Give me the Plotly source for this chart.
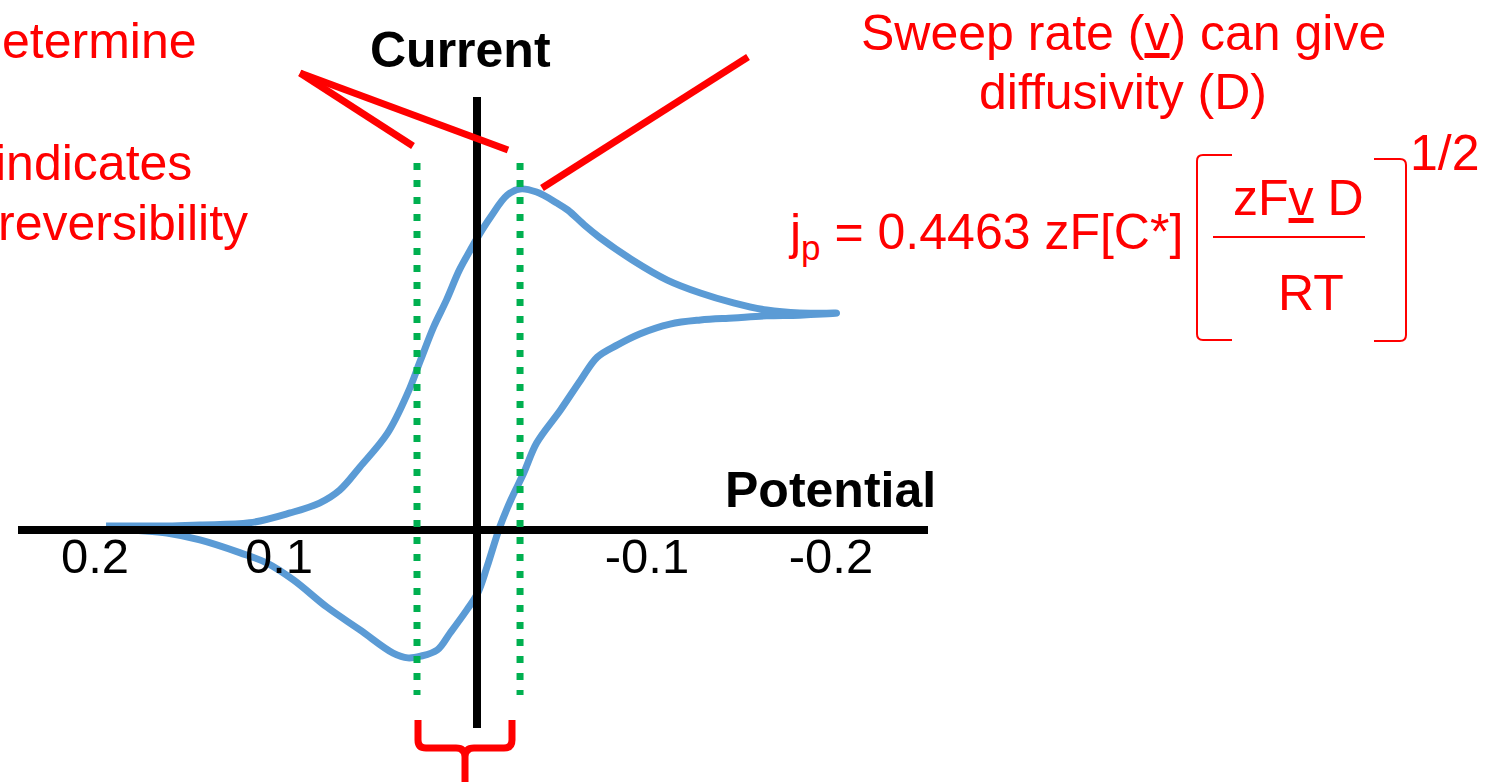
import plotly.graph_objects as go

W, H = 1495, 782

# ---------------- data (potential in V, current normalised to anodic peak) ----------------
fwd_potential = [0.194, 0.161, 0.143, 0.116, 0.094, 0.078, 0.067, 0.056, 0.041, 0.030,
                 0.023, 0.016, 0.009, 0.002, -0.004, -0.008, -0.015, -0.024, -0.031, -0.040,
                 -0.051, -0.057, -0.066, -0.074, -0.092, -0.111, -0.129, -0.147, -0.165,
                 -0.183, -0.203]
fwd_current = [0.012, 0.012, 0.015, 0.021, 0.050, 0.079, 0.117, 0.185, 0.284, 0.402,
               0.499, 0.595, 0.674, 0.762, 0.821, 0.859, 0.918, 0.982, 1.000, 0.991,
               0.959, 0.938, 0.894, 0.859, 0.792, 0.733, 0.695, 0.666, 0.645,
               0.636, 0.636]
rev_potential = [-0.183, -0.165, -0.147, -0.129, -0.1125, -0.096, -0.084, -0.073, -0.064,
                 -0.053, -0.040, -0.033, -0.026, -0.020, -0.013, -0.008, -0.002, 0.007,
                 0.014, 0.023, 0.030, 0.038, 0.056, 0.074, 0.092, 0.1065, 0.121, 0.143,
                 0.161, 0.179, 0.194]
rev_current = [0.630, 0.628, 0.622, 0.616, 0.604, 0.575, 0.543, 0.507, 0.440, 0.352,
               0.255, 0.167, 0.088, 0.009, -0.109, -0.185, -0.235, -0.302, -0.352, -0.370,
               -0.375, -0.361, -0.293, -0.226, -0.147, -0.097, -0.067, -0.029, -0.009,
               0.000, 0.009]
peak_potentials = [0.025, -0.031]          # cathodic / anodic peak potentials
tick_values = [0.2, 0.1, -0.1, -0.2]
tick_labels = ["0.2", "0.1", "-0.1", "-0.2"]

# ---------------- styling helpers (pixel -> paper fractions for decorations) ----------------
def PX(px):
    return px / W


def PY(py):
    return 1 - py / H


RED = "#FF0000"
BLUE = "#5B9BD5"
GREEN = "#00B050"
FONT = "Arial, Liberation Sans, sans-serif"
FS = 50

fig = go.Figure()
fig.add_trace(go.Scatter(
    x=fwd_potential + rev_potential,
    y=fwd_current + rev_current,
    mode="lines",
    line=dict(color=BLUE, width=7, shape="spline", smoothing=1.0),
    hoverinfo="skip",
))

shapes = []
# axes (black)
shapes.append(dict(type="line", xref="paper", yref="paper", x0=PX(18), x1=PX(928),
                   y0=PY(530), y1=PY(530), line=dict(color="black", width=8)))
shapes.append(dict(type="line", xref="paper", yref="paper", x0=PX(477), x1=PX(477),
                   y0=PY(97), y1=PY(728), line=dict(color="black", width=8)))
# green dotted lines at peak potentials
for pp in peak_potentials:
    shapes.append(dict(type="line", xref="x", yref="y", x0=pp, x1=pp, y0=1.076, y1=-0.484,
                       line=dict(color=GREEN, width=7, dash="7px,10px")))
# red pointer lines
for (a, b, c, d) in [(300, 73, 508, 150), (300, 73, 413, 146), (542, 188, 748, 57)]:
    shapes.append(dict(type="line", xref="paper", yref="paper", x0=PX(a), y0=PY(b),
                       x1=PX(c), y1=PY(d), line=dict(color=RED, width=7)))


def path(cmds):
    out = []
    for c in cmds:
        if isinstance(c, str):
            out.append(c)
        else:
            out.append(f"{PX(c[0]):.5f},{PY(c[1]):.5f}")
    return " ".join(out)


# red brace at bottom
brace = path(["M", (418, 720), "L", (418, 740), "Q", (418, 748), (426, 748), "L", (456, 748),
              "Q", (465, 748), (465, 757), "L", (465, 790),
              "M", (512, 720), "L", (512, 740), "Q", (512, 748), (504, 748), "L", (474, 748),
              "Q", (465, 748), (465, 757)])
shapes.append(dict(type="path", xref="paper", yref="paper", path=brace,
                   line=dict(color=RED, width=7)))
# equation brackets and fraction bar
lb = path(["M", (1232, 155), "L", (1203, 155), "Q", (1197, 155), (1197, 161), "L", (1197, 334),
           "Q", (1197, 340), (1203, 340), "L", (1232, 340)])
rb = path(["M", (1374, 159), "L", (1400, 159), "Q", (1406, 159), (1406, 165), "L", (1406, 335),
           "Q", (1406, 341), (1400, 341), "L", (1374, 341)])
for p in (lb, rb):
    shapes.append(dict(type="path", xref="paper", yref="paper", path=p,
                       line=dict(color=RED, width=2)))
shapes.append(dict(type="line", xref="paper", yref="paper", x0=PX(1213), x1=PX(1365),
                   y0=PY(237), y1=PY(237), line=dict(color=RED, width=2)))


def ann(text, x, y, xanchor="center", color=RED, size=FS):
    return dict(text=text, x=PX(x), y=PY(y), xref="paper", yref="paper", xanchor=xanchor,
                yanchor="middle", showarrow=False, font=dict(family=FONT, size=size, color=color))


annotations = [
    ann("etermine", 199, 41, "right"),
    ann("indicates", 194, 163, "right"),
    ann("reversibility", 250, 223, "right"),
    ann("<b>Current</b>", 460, 50, color="black"),
    ann("<b>Potential</b>", 830, 490, color="black"),
    ann("Sweep rate (<u>v</u>) can give", 1123, 33),
    ann("diffusivity (D)", 1123, 92),
    ann("j<sub>p</sub> = 0.4463 zF[C*]", 786, 235, "left"),
    ann("zF<u>v</u> D", 1298, 198),
    ann("RT", 1311, 293),
    ann("1/2", 1408, 153, "left"),
]

fig.update_layout(
    width=W, height=H, autosize=False,
    margin=dict(l=0, r=0, t=0, b=0, pad=0),
    paper_bgcolor="white", plot_bgcolor="white",
    showlegend=False,
    shapes=shapes,
    annotations=annotations,
    xaxis=dict(range=[463 / 1840, (463 - W) / 1840], showgrid=False, zeroline=False,
               showline=False, ticks="", tickvals=tick_values, ticktext=tick_labels,
               tickfont=dict(family=FONT, size=FS - 1, color="black"),
               anchor="free", position=PY(523), automargin=False, fixedrange=True),
    yaxis=dict(range=[(530 - H) / 341, 530 / 341], visible=False, fixedrange=True),
)

fig.write_html("out.html", config={"displayModeBar": False})
